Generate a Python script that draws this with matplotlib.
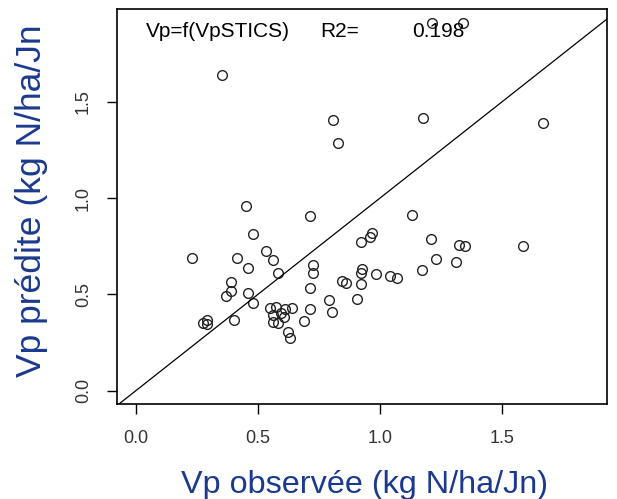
import matplotlib
matplotlib.use("Agg")
import matplotlib.pyplot as plt

plt.rcParams['font.family'] = ['Liberation Sans', 'DejaVu Sans']

# valeurs (kg N/ha/Jn)
vp_obs = [0.352, 0.808, 0.829, 1.177, 1.211, 1.341, 1.669, 0.451, 0.713, 0.479,
          0.229, 0.412, 0.533, 0.562, 0.459, 0.580, 0.727, 0.727, 0.391, 0.391,
          0.369, 0.459, 0.481, 0.711, 0.845, 0.862, 0.920, 0.959, 0.969, 0.928,
          0.921, 0.921, 0.907, 0.982, 1.041, 1.071, 1.170, 1.129, 1.209, 1.229,
          1.325, 1.350, 1.587, 1.311, 0.789, 0.803, 0.713, 0.690, 0.400, 0.274,
          0.289, 0.289, 0.549, 0.574, 0.610, 0.640, 0.563, 0.594, 0.608, 0.561,
          0.582, 0.623, 0.631]
vp_pred = [1.639, 1.405, 1.284, 1.414, 1.908, 1.908, 1.388, 0.958, 0.906, 0.813,
           0.687, 0.686, 0.725, 0.679, 0.636, 0.610, 0.654, 0.610, 0.564, 0.519,
           0.491, 0.506, 0.457, 0.534, 0.569, 0.561, 0.773, 0.799, 0.817, 0.629,
           0.609, 0.555, 0.474, 0.604, 0.593, 0.583, 0.626, 0.912, 0.787, 0.685,
           0.756, 0.751, 0.751, 0.669, 0.468, 0.409, 0.421, 0.361, 0.368, 0.352,
           0.366, 0.344, 0.429, 0.436, 0.423, 0.430, 0.392, 0.403, 0.382, 0.357,
           0.349, 0.306, 0.273]
ticks = [0.0, 0.5, 1.0, 1.5]
tick_labels = ["0.0", "0.5", "1.0", "1.5"]
r2 = 0.198

fig = plt.figure(figsize=(6.17, 4.99), dpi=100)
ax = fig.add_axes([117 / 617, 1 - 404 / 499, 490 / 617, 395 / 499])

ax.plot(vp_obs, vp_pred, 'o', mfc='none', mec='#222222', ms=7, mew=1.0)
ax.axline((0, 0), slope=1, color='black', lw=0.9)

ax.set_xlim(-0.078, 1.93)
ax.set_ylim(-0.070, 1.982)
ax.set_xticks(ticks)
ax.set_xticklabels(tick_labels)
ax.set_yticks(ticks)
ax.set_yticklabels(tick_labels, rotation=90, va='center')

ax.tick_params(axis='both', direction='out', length=7, width=1.0,
               labelsize=13, labelcolor='#333333', color='black')
ax.tick_params(axis='x', pad=12)
ax.tick_params(axis='y', pad=11)
for s in ax.spines.values():
    s.set_linewidth(1.2)
    s.set_color('black')

ax.text(0.041, 1.838, "Vp=f(VpSTICS)", fontsize=15, va='baseline', ha='left')
ax.text(0.754, 1.838, "R2=", fontsize=15, va='baseline', ha='left')
ax.text(1.131, 1.838, f"{r2:.3f}", fontsize=15, va='baseline', ha='left')

blue = '#1b3a8f'
ax.set_xlabel("Vp observée (kg N/ha/Jn)", fontsize=23.3, color=blue)
ax.xaxis.set_label_coords(0.506, -0.168)
ax.set_ylabel("Vp prédite (kg N/ha/Jn", fontsize=25.5, color=blue)
ax.yaxis.set_label_coords(-0.14, 0.515)

fig.savefig("out.png", dpi=100)
